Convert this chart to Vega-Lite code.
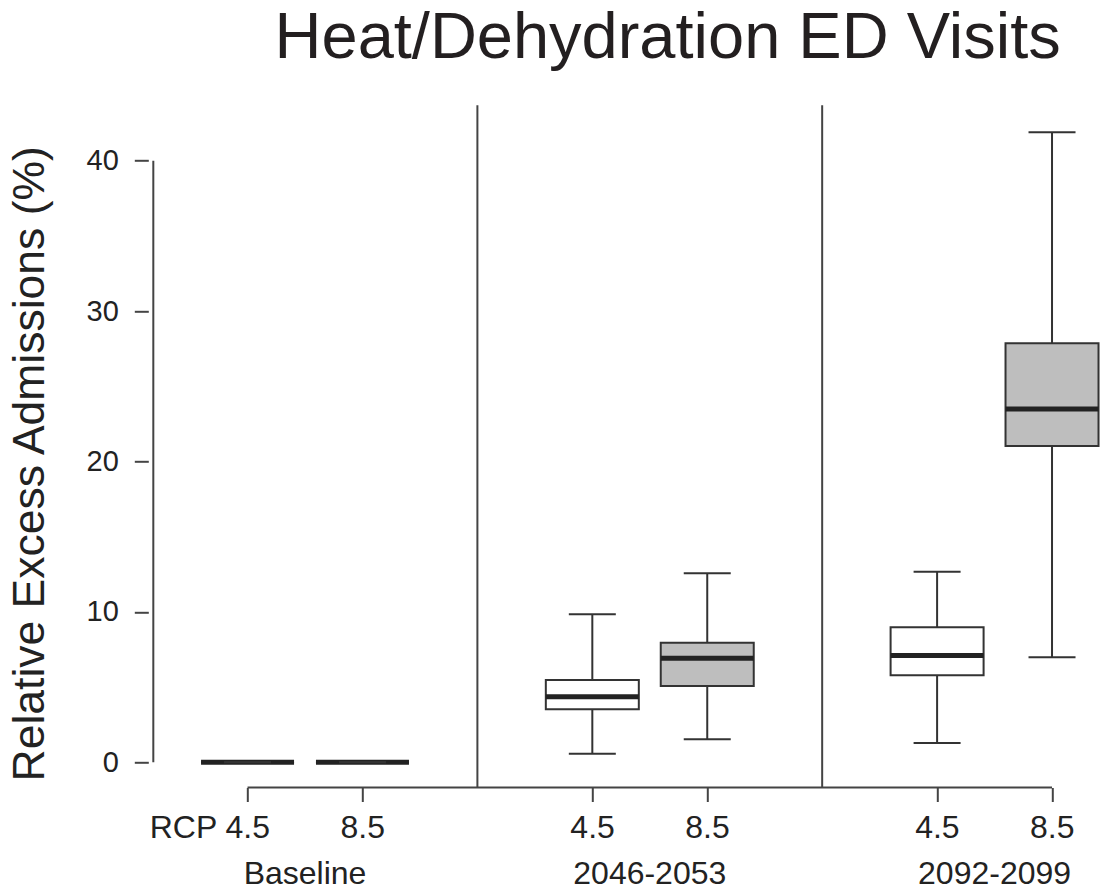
{
  "$schema": "https://vega.github.io/schema/vega-lite/v6.json",
  "autosize": {"type": "none"},
  "padding": {"left": 148.3, "top": 105.3, "right": 0, "bottom": 102.7},
  "width": 954.7,
  "height": 682.2,
  "background": "white",
  "config": {"view": {"stroke": null}, "font": "Liberation Sans"},
  "title": {
    "text": "Heat/Dehydration ED Visits",
    "fontSize": 65,
    "fontWeight": "normal",
    "font": "Liberation Sans",
    "color": "#231f20",
    "anchor": "middle",
    "frame": "group",
    "dx": 42,
    "offset": 32
  },
  "data": {
    "values": [
      {"period": "Baseline", "rcp": "4.5", "pos": 1, "low": 0, "q1": 0, "median": 0, "q3": 0, "high": 0},
      {"period": "Baseline", "rcp": "8.5", "pos": 2, "low": 0, "q1": 0, "median": 0, "q3": 0, "high": 0},
      {"period": "2046-2053", "rcp": "4.5", "pos": 4, "low": 0.57, "q1": 3.52, "median": 4.36, "q3": 5.47, "high": 9.84},
      {"period": "2046-2053", "rcp": "8.5", "pos": 5, "low": 1.53, "q1": 5.07, "median": 6.91, "q3": 7.95, "high": 12.57},
      {"period": "2092-2099", "rcp": "4.5", "pos": 7, "low": 1.28, "q1": 5.78, "median": 7.09, "q3": 8.98, "high": 12.67},
      {"period": "2092-2099", "rcp": "8.5", "pos": 8, "low": 6.98, "q1": 21.03, "median": 23.49, "q3": 27.86, "high": 41.89}
    ]
  },
  "layer": [
    {
      "mark": {"type": "rule", "color": "#333333", "strokeWidth": 2},
      "encoding": {
        "x": {
          "field": "pos", "type": "quantitative",
          "scale": {"domain": [0.18, 8.4], "nice": false, "zero": false},
          "axis": {
            "title": null,
            "domain": false,
            "grid": false,
            "values": [1, 2, 4, 5, 7, 8],
            "labelExpr": "datum.value == 1 ? 'RCP 4.5' : ((datum.value == 2 || datum.value == 5 || datum.value == 8) ? '8.5' : '4.5')",
            "labelAlign": "right",
            "labelOffset": 22,
            "labelFontSize": 32,
            "labelFont": "Liberation Sans",
            "labelColor": "#222222",
            "labelPadding": 11,
            "labelBound": false,
            "labelFlush": false,
            "labelOverlap": false,
            "tickSize": 14,
            "tickWidth": 2,
            "tickColor": "#444444"
          }
        },
        "y": {
          "field": "low", "type": "quantitative",
          "scale": {"domain": [-1.68, 43.68], "nice": false, "zero": false},
          "axis": {
            "title": "Relative Excess Admissions (%)",
            "titleFontSize": 44.5,
            "titleFont": "Liberation Sans",
            "titleFontWeight": "normal",
            "titleColor": "#222222",
            "titleAngle": -90,
            "titleAlign": "center",
            "titleBaseline": "alphabetic",
            "titleX": -105,
            "titleY": 358,
            "domain": false,
            "grid": false,
            "values": [0, 10, 20, 30, 40],
            "labelFontSize": 29,
            "labelFont": "Liberation Sans",
            "labelColor": "#222222",
            "labelPadding": 16,
            "tickSize": 14,
            "tickWidth": 2,
            "tickColor": "#444444"
          }
        },
        "y2": {"field": "high"}
      }
    },
    {
      "data": {"values": [{"sep": 3}, {"sep": 6}]},
      "mark": {"type": "rule", "color": "#444444", "strokeWidth": 2},
      "encoding": {
        "x": {"field": "sep", "type": "quantitative", "scale": {"domain": [0.18, 8.4], "nice": false, "zero": false}}
      }
    },
    {
      "mark": {"type": "bar", "orient": "vertical", "width": 93, "stroke": "#333333", "strokeWidth": 2, "opacity": 1},
      "encoding": {
        "x": {"field": "pos", "type": "quantitative", "scale": {"domain": [0.18, 8.4], "nice": false, "zero": false}},
        "y": {"field": "q1", "type": "quantitative", "scale": {"domain": [-1.68, 43.68], "nice": false, "zero": false}},
        "y2": {"field": "q3"},
        "fill": {"field": "rcp", "type": "nominal", "scale": {"domain": ["4.5", "8.5"], "range": ["#ffffff", "#bebebe"]}, "legend": null}
      }
    },
    {
      "mark": {"type": "tick", "orient": "horizontal", "size": 93, "thickness": 5, "color": "#222222", "opacity": 1},
      "encoding": {
        "x": {"field": "pos", "type": "quantitative", "scale": {"domain": [0.18, 8.4], "nice": false, "zero": false}},
        "y": {"field": "median", "type": "quantitative", "scale": {"domain": [-1.68, 43.68], "nice": false, "zero": false}}
      }
    },
    {
      "mark": {"type": "tick", "orient": "horizontal", "size": 47, "thickness": 2, "color": "#333333", "opacity": 1},
      "encoding": {
        "x": {"field": "pos", "type": "quantitative", "scale": {"domain": [0.18, 8.4], "nice": false, "zero": false}},
        "y": {"field": "low", "type": "quantitative", "scale": {"domain": [-1.68, 43.68], "nice": false, "zero": false}}
      }
    },
    {
      "mark": {"type": "tick", "orient": "horizontal", "size": 47, "thickness": 2, "color": "#333333", "opacity": 1},
      "encoding": {
        "x": {"field": "pos", "type": "quantitative", "scale": {"domain": [0.18, 8.4], "nice": false, "zero": false}},
        "y": {"field": "high", "type": "quantitative", "scale": {"domain": [-1.68, 43.68], "nice": false, "zero": false}}
      }
    },
    {
      "data": {"values": [{"axis": "y", "x1": 0.18, "x2": 0.18, "y1": 0, "y2": 40}, {"axis": "x", "x1": 1, "x2": 8, "y1": -1.68, "y2": -1.68}]},
      "mark": {"type": "rule", "color": "#444444", "strokeWidth": 2},
      "encoding": {
        "x": {"field": "x1", "type": "quantitative", "scale": {"domain": [0.18, 8.4], "nice": false, "zero": false}},
        "x2": {"field": "x2"},
        "y": {"field": "y1", "type": "quantitative", "scale": {"domain": [-1.68, 43.68], "nice": false, "zero": false}},
        "y2": {"field": "y2"}
      }
    },
    {
      "data": {"values": [{"period": "Baseline", "mid": 1.5}, {"period": "2046-2053", "mid": 4.5}, {"period": "2092-2099", "mid": 7.5}]},
      "mark": {"type": "text", "fontSize": 32, "font": "Liberation Sans", "color": "#222222", "align": "center", "baseline": "alphabetic", "dy": 97},
      "encoding": {
        "x": {"field": "mid", "type": "quantitative", "scale": {"domain": [0.18, 8.4], "nice": false, "zero": false}},
        "y": {"datum": -1.68, "type": "quantitative", "scale": {"domain": [-1.68, 43.68], "nice": false, "zero": false}},
        "text": {"field": "period"}
      }
    }
  ]
}
